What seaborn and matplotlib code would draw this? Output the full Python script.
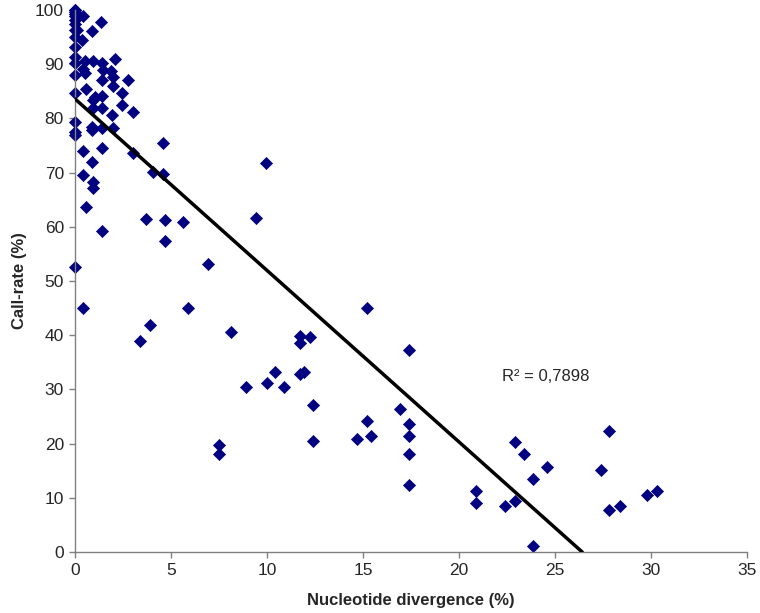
import numpy as np
import pandas as pd
import matplotlib
matplotlib.use("Agg")
import matplotlib.pyplot as plt
import seaborn as sns

# Valeurs
divergence = [0, 0, 0, 0, 0, 0, 0, 0, 0, 0, 0, 0, 0, 0, 0, 0, 0, 0, 0.09, 0.43, 0.35, 0.52,
              0.95, 1.39, 2.1, 0.43, 0.52, 1.47, 1.9, 2.0, 2.78, 1.42, 2.0, 0.56, 2.43,
              1.04, 1.42, 0.95, 2.43, 0.95, 1.42, 3.04, 1.91, 0.87, 0.9, 1.42, 1.96,
              4.57, 3.04, 1.42, 0.43, 0.9, 4.05, 4.57, 0.43, 0.92, 0.92, 1.37, 0.9,
              0.56, 1.4, 3.7, 4.7, 5.6, 4.7, 6.9, 9.4, 0.42, 5.9, 3.9, 3.4, 8.1, 8.9,
              9.96, 15.2, 17.4, 11.7, 12.25, 11.7, 10.4, 11.7, 11.9, 10.0, 10.9,
              12.4, 12.4, 16.9, 15.2, 17.4, 14.7, 15.4, 17.4, 17.4, 17.4, 7.5, 7.5,
              27.8, 22.9, 23.4, 24.6, 27.4, 23.85, 20.9, 20.9, 29.8, 30.3, 22.4,
              22.9, 27.8, 28.4, 23.85]
call_rate = [100, 99.7, 99.3, 98.8, 97.5, 96.3, 95.1, 93.2, 91.4, 90.2, 88.0, 84.7,
             79.4, 77.5, 76.9, 52.5, 100, 98.2, 96.4, 98.9, 94.5, 90.5,
             90.6, 90.3, 91.0, 89.2, 88.3, 88.9, 88.8, 87.7, 87.1, 87.0, 85.9, 85.4, 84.7,
             83.9, 84.2, 83.4, 82.5, 81.9, 81.9, 81.1, 80.6, 78.5, 77.9, 78.3, 78.3,
             75.4, 73.6, 74.6, 73.9, 71.9, 70.1, 69.7, 69.6, 68.3, 67.1, 97.8, 96.1,
             63.7, 59.2, 61.4, 61.3, 60.8, 57.4, 53.1, 61.6, 45.1, 45.1, 41.8, 38.9, 40.6, 30.5,
             71.7, 45.0, 37.3, 39.9, 39.7, 38.5, 33.3, 32.8, 33.2, 31.1, 30.5,
             27.1, 20.4, 26.3, 24.2, 23.7, 20.9, 21.4, 21.4, 18.0, 12.4, 19.8, 18.1,
             22.3, 20.3, 18.0, 15.7, 15.1, 13.5, 11.3, 9.1, 10.6, 11.2, 8.4,
             9.5, 7.8, 8.4, 1.2]

# Courbe de tendance (Excel)
trend_intercept = 83.6
trend_slope = -3.165
r2_label = "R² = 0,7898"

df = pd.DataFrame({"divergence": divergence, "call_rate": call_rate})

sns.set_style("white")
plt.rcParams['font.family'] = ['Liberation Sans', 'DejaVu Sans']

fig = plt.figure(figsize=(7.6, 6.13), dpi=100)
ax = fig.add_axes([0.0987, 0.0995, 0.8843, 0.8842])

sns.scatterplot(data=df, x="divergence", y="call_rate", marker="D", s=38,
                color="#000080", edgecolor="#000080", linewidth=0.5, ax=ax, zorder=2)
for coll in ax.collections:
    coll.set_clip_on(False)

x_end = -trend_intercept / trend_slope
xs = np.array([0, x_end])
ax.plot(xs, trend_intercept + trend_slope * xs, color="black", linewidth=2.5, zorder=3)

ax.text(24.5, 32.3, r2_label, ha="center", va="center", fontsize=12)

ax.set_xlim(0, 35)
ax.set_ylim(0, 100)
ax.set_xticks(range(0, 36, 5))
ax.set_yticks(range(0, 101, 10))
ax.tick_params(axis="both", direction="out", length=4, width=1, color="#808080",
               labelsize=12.5, pad=4, bottom=True, left=True)
sns.despine(ax=ax)
for side in ["left", "bottom"]:
    ax.spines[side].set_color("#808080")
    ax.spines[side].set_linewidth(1)

ax.set_xlabel("Nucleotide divergence (%)", fontsize=12, fontweight="bold", labelpad=11)
ax.set_ylabel("Call-rate (%)", fontsize=12, fontweight="bold", labelpad=6)

fig.savefig("out.png", dpi=100)
